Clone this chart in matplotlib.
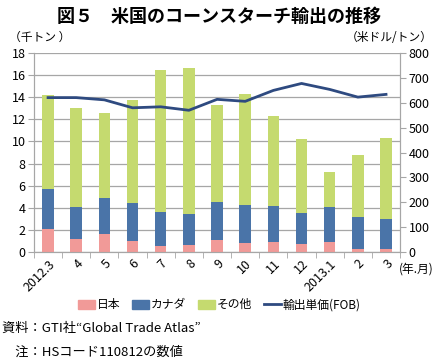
import numpy as np
import matplotlib
matplotlib.use("Agg")
from matplotlib import pyplot as plt
from matplotlib.patches import Patch
from matplotlib.lines import Line2D

plt.rcParams['font.family'] = ['Noto Sans CJK JP', 'DejaVu Sans']

# data (千トン, 米ドル/トン)
months = ["2012.3", "4", "5", "6", "7", "8", "9", "10", "11", "12", "2013.1", "2", "3"]
japan = [2.08, 1.2, 1.6, 0.96, 0.5, 0.66, 1.1, 0.81, 0.93, 0.72, 0.93, 0.27, 0.27]
canada_top = [5.74, 4.03, 4.84, 4.45, 3.64, 3.4, 4.54, 4.24, 4.2, 3.49, 4.06, 3.16, 2.94]
total = [14.2, 13.0, 12.55, 13.73, 16.47, 16.65, 13.34, 14.3, 12.35, 10.22, 7.24, 8.74, 10.3]
price = [621, 621, 612, 580, 584, 570, 614, 606, 650, 678, 654, 623, 634]

canada = [c - j for c, j in zip(canada_top, japan)]
other = [t - c for t, c in zip(total, canada_top)]

c_jp = "#f19a98"
c_ca = "#4a74a8"
c_ot = "#c5da6f"
c_ln = "#2e4a80"
grid_c = "#a6a6a6"

fig = plt.figure(figsize=(4.39, 3.64), dpi=100)
ax = fig.add_axes([0.0774, 0.308, 0.834, 0.546])
x = np.arange(len(months))
w = 0.41

ax.bar(x, japan, w, color=c_jp, zorder=3)
ax.bar(x, canada, w, bottom=japan, color=c_ca, zorder=3)
ax.bar(x, other, w, bottom=canada_top, color=c_ot, zorder=3)

ax.set_ylim(0, 18)
ax.set_xlim(-0.5, 12.5)
ax.set_yticks(np.arange(0, 19, 2))
ax.yaxis.grid(True, color=grid_c, linewidth=0.9, zorder=0)
ax.set_axisbelow(True)
ax.set_xticks(x)
ax.set_xticklabels(months, rotation=45, ha="right", rotation_mode="anchor", fontsize=9)
ax.set_xticks(np.arange(-0.5, 13, 1), minor=True)
ax.tick_params(axis="x", which="major", length=0, pad=4)
ax.tick_params(axis="x", which="minor", length=4, color=grid_c)
ax.tick_params(axis="y", labelsize=9, length=4, color=grid_c, pad=2)
for s in ["left", "right", "bottom"]:
    ax.spines[s].set_color(grid_c)
ax.spines["top"].set_visible(False)

ax2 = ax.twinx()
ax2.plot(x, price, color=c_ln, linewidth=2, zorder=4)
ax2.set_ylim(0, 800)
ax2.set_yticks(np.arange(0, 801, 100))
ax2.tick_params(axis="y", labelsize=9, length=4, color=grid_c, pad=2)
for s in ["left", "right", "bottom"]:
    ax2.spines[s].set_color(grid_c)
ax2.spines["top"].set_visible(False)

fig.text(0.5, 0.955, "図５　米国のコーンスターチ輸出の推移", ha="center", va="center",
         fontsize=13, fontweight="bold")
fig.text(0.02, 0.898, "（千トン ）", ha="left", va="center", fontsize=8.5)
fig.text(0.985, 0.898, "（米ドル/トン）", ha="right", va="center", fontsize=8.5)
fig.text(0.908, 0.262, "(年.月)", ha="left", va="center", fontsize=8.5)

handles = [Patch(color=c_jp), Patch(color=c_ca), Patch(color=c_ot),
           Line2D([0], [0], color=c_ln, linewidth=2)]
labels = ["日本", "カナダ", "その他", "輸出単価(FOB)"]
fig.legend(handles, labels, loc="center", bbox_to_anchor=(0.5, 0.163), ncol=4,
           frameon=False, fontsize=8.5, handlelength=1.4, handleheight=0.8,
           handletextpad=0.2, columnspacing=1.0)

fig.text(0.005, 0.098, "資料：GTI社“Global Trade Atlas”", ha="left", va="center", fontsize=9.5)
fig.text(0.005, 0.033, "　注：HSコード110812の数値", ha="left", va="center", fontsize=9.5)

fig.savefig("out.png", dpi=100)
